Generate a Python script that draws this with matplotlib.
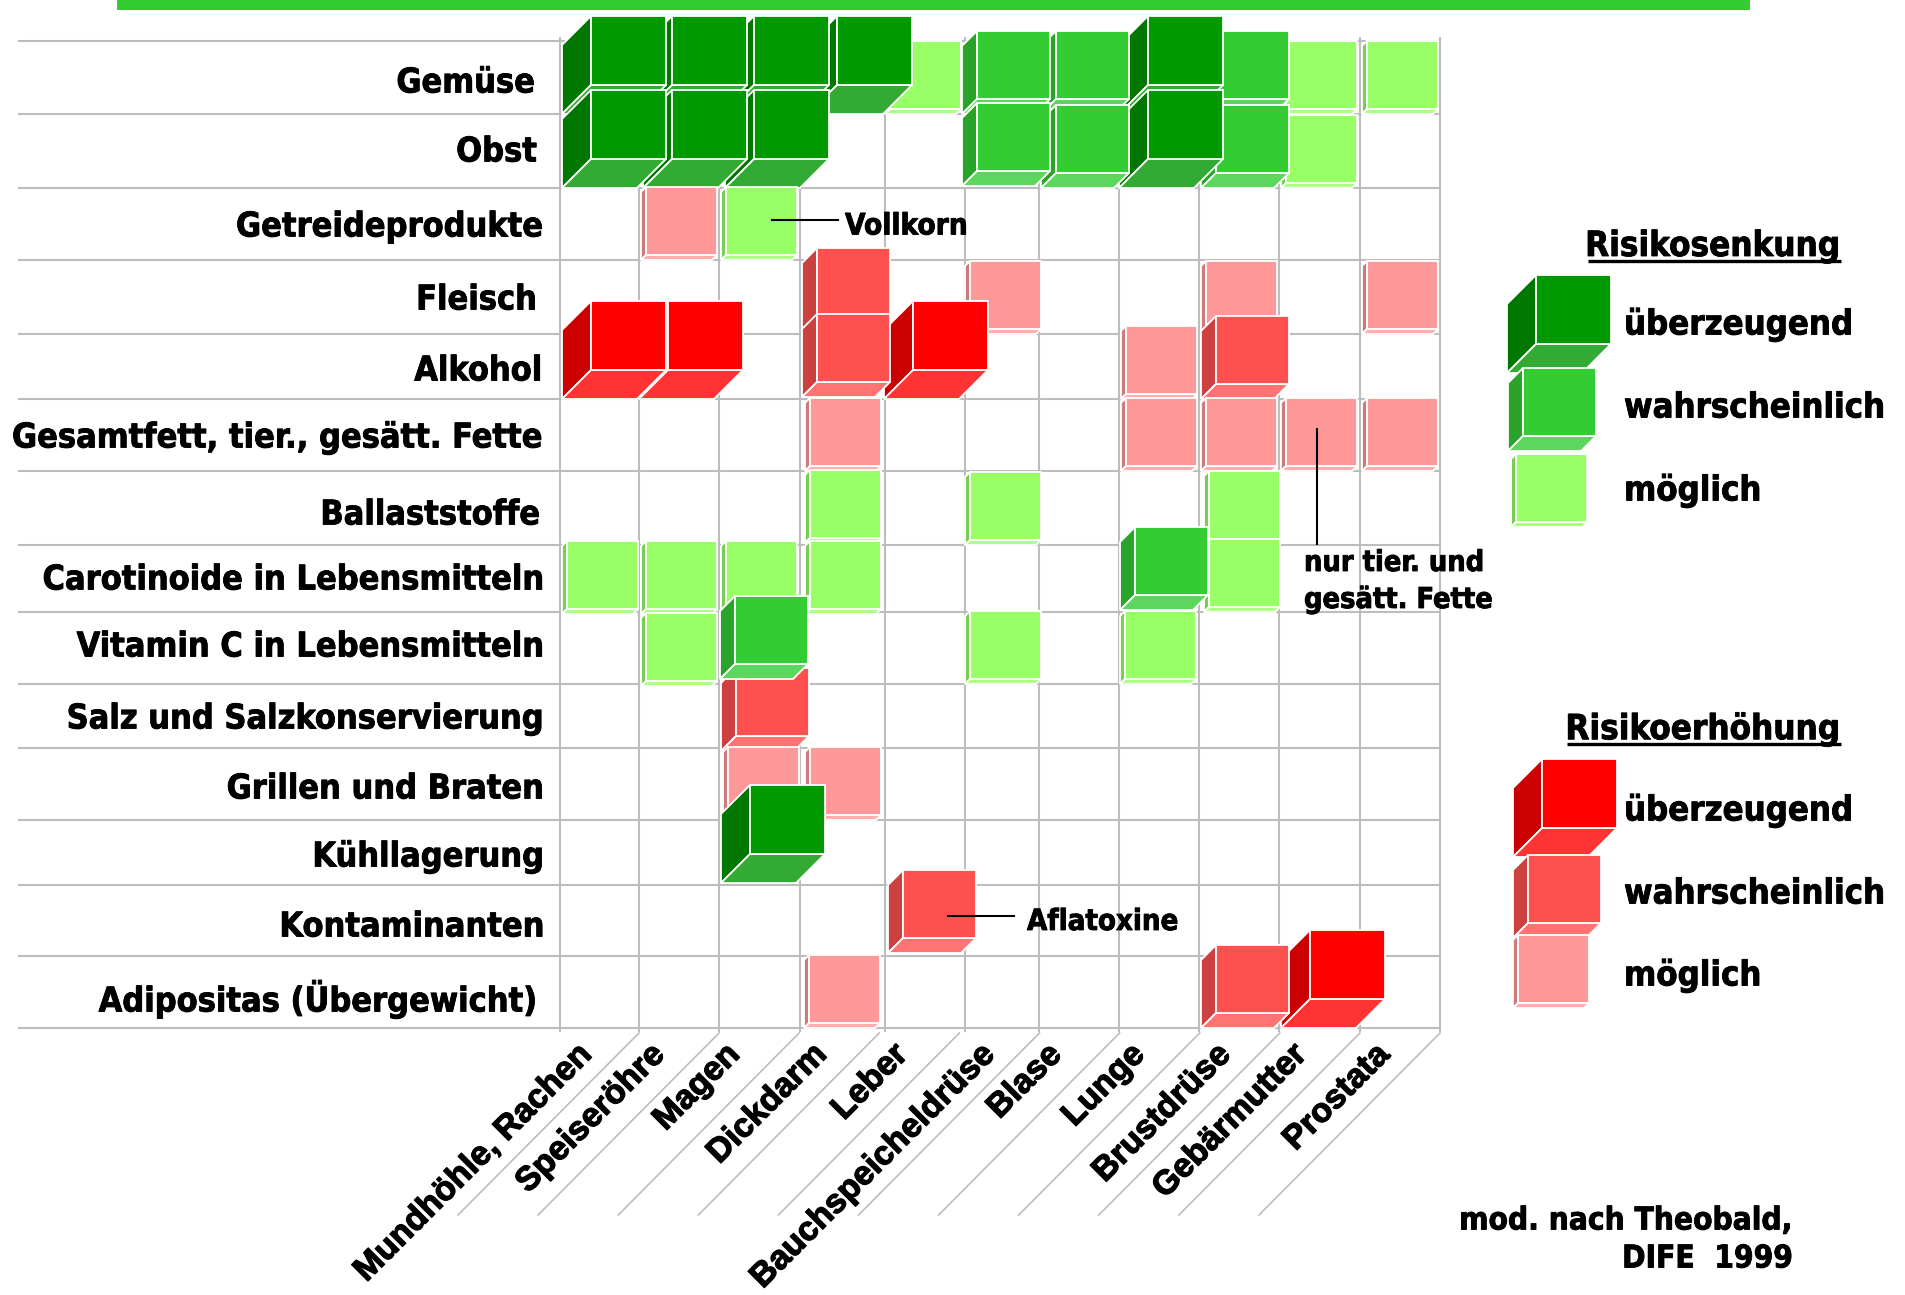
"""
Ernaehrung und Krebsrisiko: matrix of cubes, recreated with matplotlib
"""

import matplotlib
matplotlib.use('Agg')
import matplotlib.pyplot as plt
import matplotlib.patheffects as pe
from matplotlib.patches import Polygon, Rectangle

foods = ['Gemüse', 'Obst', 'Getreideprodukte', 'Fleisch', 'Alkohol',
         'Gesamtfett, tier., gesätt. Fette', 'Ballaststoffe',
         'Carotinoide in Lebensmitteln', 'Vitamin C in Lebensmitteln',
         'Salz und Salzkonservierung', 'Grillen und Braten', 'Kühllagerung',
         'Kontaminanten', 'Adipositas (Übergewicht)']
sites = ['Mundhöhle, Rachen', 'Speiseröhre', 'Magen', 'Dickdarm', 'Leber',
         'Bauchspeicheldrüse', 'Blase', 'Lunge', 'Brustdrüse', 'Gebärmutter',
         'Prostata']

# +3/+2/+1 = Risikosenkung, -3/-2/-1 = Risikoerhoehung, one value per site
levels = [
    [3, 3, 3, 3, 1, 2, 2, 3, 2, 1, 1],
    [3, 3, 3, 0, 0, 2, 2, 3, 2, 1, 0],
    [0, -1, 1, 0, 0, 0, 0, 0, 0, 0, 0],
    [0, 0, 0, -2, 0, -1, 0, 0, -1, 0, -1],
    [-3, -3, 0, -2, -3, 0, 0, -1, -2, 0, 0],
    [0, 0, 0, -1, 0, 0, 0, -1, -1, -1, -1],
    [0, 0, 0, 1, 0, 1, 0, 0, 1, 0, 0],
    [1, 1, 1, 1, 0, 0, 0, 2, 1, 0, 0],
    [0, 1, 2, 0, 0, 1, 0, 1, 0, 0, 0],
    [0, 0, -2, 0, 0, 0, 0, 0, 0, 0, 0],
    [0, 0, -1, -1, 0, 0, 0, 0, 0, 0, 0],
    [0, 0, 3, 0, 0, 0, 0, 0, 0, 0, 0],
    [0, 0, 0, 0, -2, 0, 0, 0, 0, 0, 0],
    [0, 0, 0, -1, 0, 0, 0, 0, -2, -3, 0],
]
level_names = {3: 'überzeugend', 2: 'wahrscheinlich', 1: 'möglich'}

# layout in pixels of the 1905x1295 picture
col_edges = [560, 639, 719, 800, 885, 965, 1039, 1119, 1199, 1279, 1360, 1440]
row_edges = [41, 114, 188, 260, 334, 399, 471, 545, 612, 684, 748, 820, 885, 956, 1028]
site_label_x = [587, 660, 735, 822, 903, 990, 1057, 1140, 1226, 1302, 1385]
food_label_x = [535, 537, 543, 537, 542, 542, 540, 544, 544, 544, 544, 544, 544, 537]
food_label_y = [83, 152, 227, 300, 371, 438, 515, 580, 647, 719, 789, 857, 927, 999]
cube_size = {3: (75, 69, 29), 2: (73, 68, 15), 1: (71, 68, 5)}

# the cubes were placed by hand in the original: (row, col) -> (dx, dy)
cube_nudge = {
    (0, 1): (4, 0), (0, 2): (6, 0), (0, 3): (8, 0), (0, 4): (0, 0), (0, 5): (-3, 0), (0, 7): (0, 0),
    (1, 1): (4, 0), (1, 2): (6, 0), (1, 5): (-3, -2), (1, 7): (0, 0),
    (3, 3): (2, -3), (3, 5): (0, 0),
    (4, 1): (0, 0), (4, 3): (2, -2), (4, 4): (-1, 0),
    (5, 3): (5, 0),
    (6, 3): (5, -2), (6, 5): (0, 0), (6, 8): (5, -1),
    (7, 0): (2, 2), (7, 1): (2, 2), (7, 2): (2, 2), (7, 3): (5, 2), (7, 7): (1, -2), (7, 8): (5, 0),
    (8, 1): (2, 2), (8, 2): (1, -5), (8, 5): (0, 0), (8, 7): (1, 0),
    (9, 2): (2, 3),
    (10, 2): (4, 0), (10, 3): (5, 0),
    (11, 2): (2, -2),
    (12, 4): (3, -3),
    (13, 3): (4, 0),
}
# these two lie over the cube of the row below
drawn_late = [(7, 7), (8, 2)]

colors = {
    3: ('#009900', '#007700', '#33aa33'),
    2: ('#33cc33', '#29a329', '#5cd65c'),
    1: ('#99ff66', '#7acc52', '#adff85'),
    -3: ('#ff0000', '#cc0000', '#ff3333'),
    -2: ('#ff5050', '#cc4040', '#ff7373'),
    -1: ('#ff9999', '#cc7a7a', '#ffadad'),
}

BOLD = dict(family='DejaVu Sans', weight='bold', stretch='condensed', color='black', zorder=6,
            path_effects=[pe.withStroke(linewidth=0.6, foreground='black')])
GRID = '#bdbdbd'


def draw_cube(ax, left, bottom, level):
    """Draw one cube, left/bottom is the lower left corner of the whole shape."""
    w, h, d = cube_size[abs(level)]
    front, side, under = colors[level]
    x0 = left + d
    y1 = bottom - d
    y0 = y1 - h
    style = dict(edgecolor='white', linewidth=1.3, joinstyle='miter', zorder=3)
    ax.add_patch(Polygon([(x0, y0), (x0, y1), (left, bottom), (left, y0 + d)],
                         facecolor=side, **style))
    ax.add_patch(Polygon([(x0, y1), (x0 + w, y1), (x0 + w - d, bottom), (left, bottom)],
                         facecolor=under, **style))
    ax.add_patch(Rectangle((x0, y0), w, h, facecolor=front, **style))


def draw_site_cube(ax, r, c):
    dx, dy = cube_nudge.get((r, c), (2, 0))
    draw_cube(ax, col_edges[c] + dx, row_edges[r + 1] + dy, levels[r][c])


def draw_legend(ax, title, title_y, line_width, sign, cube_lefts, cube_bottoms, label_ys):
    ax.text(1841, title_y, title, ha='right', va='center', fontsize=25, **BOLD)
    ax.plot([1841 - line_width, 1841], [title_y + 15, title_y + 15], color='black', lw=2.4,
            solid_capstyle='butt')
    for lev, left, bottom, y in zip((3, 2, 1), cube_lefts, cube_bottoms, label_ys):
        draw_cube(ax, left, bottom, sign * lev)
        ax.text(1624, y, level_names[lev], ha='left', va='center', fontsize=24.8, **BOLD)


fig = plt.figure(figsize=(19.05, 12.95), dpi=100)
ax = fig.add_axes([0, 0, 1, 1])
ax.set_xlim(0, 1905)
ax.set_ylim(1295, 0)
ax.axis('off')

# top band
ax.add_patch(Rectangle((117, 0), 1633, 10, facecolor='#33cc33', edgecolor='none'))

# grid
for y in row_edges:
    ax.plot([18, 1440], [y, y], color=GRID, lw=1.5, solid_capstyle='butt', zorder=1)
for x in col_edges:
    ax.plot([x, x], [row_edges[0] - 4, row_edges[-1] + 4], color=GRID, lw=1.5,
            solid_capstyle='butt', zorder=1)
for i in range(11):
    x = 639 + i * 80.1
    ax.plot([x, x - 181], [1033, 1215], color=GRID, lw=1.2, zorder=1)

# cubes, rows from the top, sites from the right so left ones overlap
for r, row in enumerate(levels):
    for c in range(len(sites) - 1, -1, -1):
        if row[c] != 0 and (r, c) not in drawn_late:
            draw_site_cube(ax, r, c)
for r, c in drawn_late:
    draw_site_cube(ax, r, c)

# row and column labels
for x, y, food in zip(food_label_x, food_label_y, foods):
    ax.text(x, y, food, ha='right', va='center', fontsize=24.5, **BOLD)
for x, site in zip(site_label_x, sites):
    ax.text(x, 1050, site, ha='right', va='center', rotation=45, rotation_mode='anchor',
            fontsize=24.3, family='Liberation Sans', weight='bold',
            path_effects=[pe.withStroke(linewidth=0.9, foreground='black')])

# annotations
ax.plot([772, 838], [220, 220], color='black', lw=1.5, zorder=5)
ax.text(845, 226, 'Vollkorn', ha='left', va='center', fontsize=21.3, **BOLD)
ax.plot([948, 1014], [916, 916], color='black', lw=1.5, zorder=5)
ax.text(1027, 922, 'Aflatoxine', ha='left', va='center', fontsize=21, **BOLD)
ax.plot([1317, 1317], [429, 544], color='black', lw=1.5, zorder=5)
ax.text(1304, 563, 'nur tier. und', ha='left', va='center', fontsize=20.7, **BOLD)
ax.text(1304, 600, 'gesätt. Fette', ha='left', va='center', fontsize=20.7, **BOLD)

draw_legend(ax, 'Risikosenkung', 246, 253, 1, (1507, 1508, 1511), (373, 451, 527), (325, 408, 491))
draw_legend(ax, 'Risikoerhöhung', 729, 274, -1, (1513, 1513, 1513), (857, 938, 1008), (811, 894, 976))

ax.text(1793, 1221, 'mod. nach Theobald,', ha='right', va='center', fontsize=22.6, **BOLD)
ax.text(1793, 1259, 'DIFE  1999', ha='right', va='center', fontsize=22.6, **BOLD)

fig.savefig('out.png', dpi=100)
